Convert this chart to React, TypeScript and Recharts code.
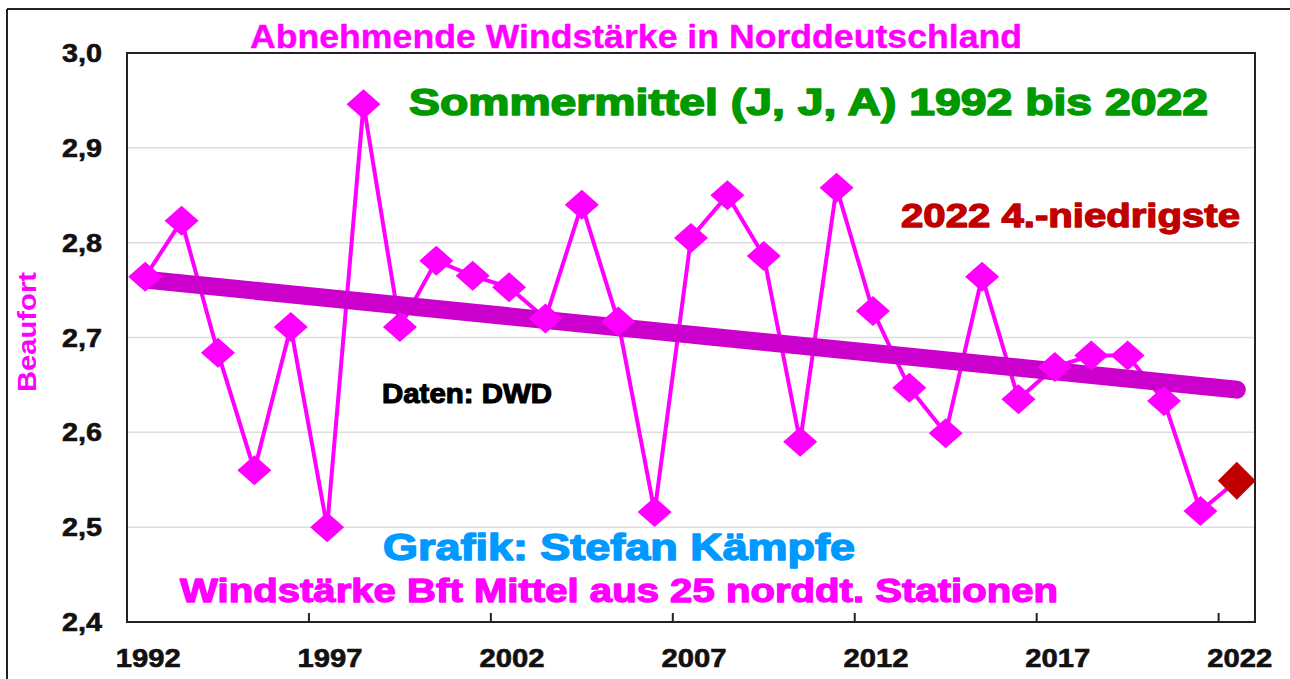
import * as React from "react";
import {
  LineChart,
  Line,
  XAxis,
  YAxis,
  CartesianGrid,
  ReferenceArea
} from "recharts";

const years = [
  1992, 1993, 1994, 1995, 1996, 1997, 1998, 1999, 2000, 2001, 2002, 2003,
  2004, 2005, 2006, 2007, 2008, 2009, 2010, 2011, 2012, 2013, 2014, 2015,
  2016, 2017, 2018, 2019, 2020, 2021, 2022
];

// Sommermittel Windstärke (Bft), 25 norddeutsche Stationen
const wind = [
  2.764, 2.823, 2.684, 2.56, 2.711, 2.5, 2.946, 2.711, 2.781, 2.765, 2.753,
  2.72, 2.84, 2.717, 2.516, 2.805, 2.85, 2.786, 2.59, 2.858, 2.728, 2.647,
  2.599, 2.764, 2.635, 2.669, 2.681, 2.681, 2.633, 2.517, 2.549
];

// linearer Trend, nur Anfangs- und Endwert
const trendYears = [1992, 2022];
const trendValues = [2.761, 2.645];

const xTicks = [1992, 1997, 2002, 2007, 2012, 2017, 2022];
const yTicks = [2.4, 2.5, 2.6, 2.7, 2.8, 2.9, 3.0];

const data = years.map((year, i) => {
  const t = trendYears.indexOf(year);
  return {
    year,
    wind: wind[i],
    trend: t >= 0 ? trendValues[t] : null
  };
});

const FONT = "'Liberation Sans', Arial, Helvetica, sans-serif";
const MAGENTA = "#FF00FF";

const W = 1290;
const H = 679;
const PLOT_LEFT = 127;
const PLOT_RIGHT = 1255;
const HALF_BAND = (PLOT_RIGHT - PLOT_LEFT) / years.length / 2;

const Diamond = (props: any) => {
  const { cx, cy, index } = props;
  if (cx == null || cy == null) return <g key={`d-${index}`} />;
  const last = index === years.length - 1;
  const rx = last ? 19 : 17;
  const ry = last ? 19 : 15;
  return (
    <path
      key={`d-${index}`}
      d={`M${cx},${cy - ry}L${cx + rx},${cy}L${cx},${cy + ry}L${cx - rx},${cy}Z`}
      fill={last ? "#C00000" : MAGENTA}
    />
  );
};

const XTick = (props: any) => {
  const { x, y, payload } = props;
  return (
    <g>
      <line
        x1={x - HALF_BAND}
        x2={x - HALF_BAND}
        y1={y}
        y2={y - 9}
        stroke="#222"
        strokeWidth={2}
      />
      <text
        x={x + 3}
        y={y + 45}
        textAnchor="middle"
        fontFamily={FONT}
        fontWeight="bold"
        fontSize={25}
        textLength={65}
        lengthAdjust="spacingAndGlyphs"
        fill="#111"
        stroke="#111"
        strokeWidth={0.6}
      >
        {payload.value}
      </text>
    </g>
  );
};

const YTick = (props: any) => {
  const { x, y, payload } = props;
  return (
    <text
      x={x - 25}
      y={y + 9}
      textAnchor="end"
      fontFamily={FONT}
      fontWeight="bold"
      fontSize={25}
      textLength={40}
      lengthAdjust="spacingAndGlyphs"
      fill="#111"
      stroke="#111"
      strokeWidth={0.6}
    >
      {payload.value.toFixed(1).replace(".", ",")}
    </text>
  );
};

const Note = ({
  x,
  y,
  size,
  len,
  color,
  heavy = 1.2,
  children
}: {
  x: number;
  y: number;
  size: number;
  len: number;
  color: string;
  heavy?: number;
  children: React.ReactNode;
}) => (
  <text
    x={x}
    y={y}
    fontFamily={FONT}
    fontWeight="bold"
    fontSize={size}
    textLength={len}
    lengthAdjust="spacingAndGlyphs"
    fill={color}
    stroke={color}
    strokeWidth={heavy}
    strokeLinejoin="round"
  >
    {children}
  </text>
);

export default function App() {
  return (
    <div
      style={{
        position: "absolute",
        left: 0,
        top: 0,
        width: W,
        height: H,
        background: "#fff"
      }}
    >
      <LineChart
        width={W}
        height={H}
        data={data}
        margin={{ top: 53, right: W - PLOT_RIGHT, bottom: 7, left: 0 }}
      >
        <CartesianGrid
          vertical={false}
          stroke="#dddddd"
          strokeWidth={1.5}
        />
        <XAxis
          dataKey="year"
          type="number"
          domain={[1991.5, 2022.5]}
          ticks={xTicks}
          interval={0}
          height={50}
          tickSize={0}
          tickMargin={0}
          tickLine={false}
          axisLine={{ stroke: "#222", strokeWidth: 2 }}
          tick={<XTick />}
        />
        <YAxis
          type="number"
          domain={[2.4, 3.0]}
          ticks={yTicks}
          interval={0}
          width={PLOT_LEFT}
          tickSize={0}
          tickMargin={0}
          tickLine={false}
          axisLine={{ stroke: "#222", strokeWidth: 2 }}
          tick={<YTick />}
        />
        <ReferenceArea
          x1={1991.5}
          x2={2022.5}
          y1={2.4}
          y2={3.0}
          fill="none"
          fillOpacity={0}
          stroke="#222"
          strokeWidth={2}
        />
        <Line
          type="linear"
          dataKey="wind"
          stroke={MAGENTA}
          strokeWidth={4}
          dot={(p: any) => <Diamond {...p} />}
          activeDot={false}
          isAnimationActive={false}
        />
        <Line
          type="linear"
          dataKey="trend"
          stroke="#CC00CC"
          strokeWidth={18}
          strokeLinecap="round"
          connectNulls
          dot={false}
          activeDot={false}
          isAnimationActive={false}
        />
      </LineChart>
      <svg
        width={W}
        height={H}
        style={{ position: "absolute", left: 0, top: 0, pointerEvents: "none" }}
      >
        <line x1={7} y1={9} x2={W} y2={9} stroke="#222" strokeWidth={2} />
        <line x1={7} y1={9} x2={7} y2={H} stroke="#222" strokeWidth={2} />
        <Note x={250} y={48} size={34} len={772} color={MAGENTA} heavy={0.4}>
          Abnehmende Windstärke in Norddeutschland
        </Note>
        <Note x={409} y={115} size={37} len={799} color="#009900" heavy={1.6}>
          Sommermittel (J, J, A) 1992 bis 2022
        </Note>
        <Note x={901} y={227} size={33} len={339} color="#C00000" heavy={1.3}>
          2022 4.-niedrigste
        </Note>
        <Note x={382} y={403} size={27} len={170} color="#000" heavy={1.1}>
          Daten: DWD
        </Note>
        <Note x={383} y={560} size={37} len={472} color="#0099FF" heavy={1.5}>
          Grafik: Stefan Kämpfe
        </Note>
        <Note x={180} y={602} size={33} len={878} color={MAGENTA} heavy={1.3}>
          Windstärke Bft Mittel aus 25 norddt. Stationen
        </Note>
        <text
          transform="translate(36, 332) rotate(-90)"
          textAnchor="middle"
          fontFamily={FONT}
          fontWeight="bold"
          fontSize={26}
          textLength={120}
          lengthAdjust="spacingAndGlyphs"
          fill={MAGENTA}
        >
          Beaufort
        </text>
      </svg>
    </div>
  );
}
